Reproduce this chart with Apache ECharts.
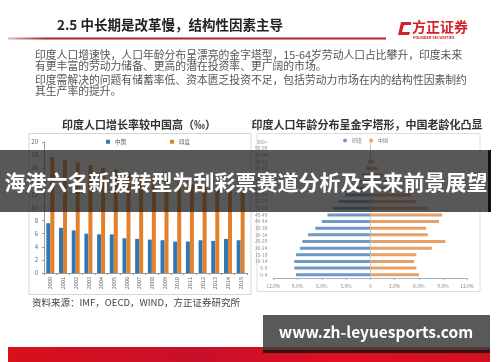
<!DOCTYPE html>
<html><head><meta charset="utf-8">
<script src="https://cdn.jsdelivr.net/npm/echarts@6/dist/echarts.min.js"></script>
<style>html,body{margin:0;padding:0;background:#fff}#c{width:500px;height:362px}</style>
</head><body><div id="c"></div>
<script>
// Left chart: natural growth rate (‰)
const years = ['2000','2001','2002','2003','2004','2005','2006','2007','2008','2009','2010','2011','2012','2013','2014','2015'];
const chinaGrowth = [7.6,6.9,6.5,6.0,5.9,5.9,5.3,5.2,5.1,5.0,4.8,4.8,5.0,4.9,5.2,5.0];
const indiaGrowth = [17.7,17.3,16.9,16.5,16.1,15.8,15.4,15.0,14.6,14.3,13.9,13.6,13.2,12.9,12.6,12.3];
const growthTicks = {min:0, max:20, interval:2};
// Right chart: age structure (%)
const ageGroups = ['0-4','5-9','10-14','15-19','20-24','25-29','30-34','35-39','40-44','45-49','50-54','55-59','60-64','65-69','70-74','75-79','80-84','85-89','90-94','95-99','100+'];
const indiaPct = [9.2,9.4,9.4,9.2,8.7,8.4,7.7,6.8,6.0,5.3,4.6,3.9,3.1,2.3,1.6,1.0,0.5,0.25,0.1,0.03,0.01];
const chinaPct = [6.0,5.7,5.4,5.7,7.6,9.3,7.1,6.9,8.5,8.9,7.1,5.6,5.1,3.6,2.4,1.6,0.9,0.4,0.15,0.03,0.01];
const pctTicks = {min:-12, max:12, interval:3};

const FF = '"Noto Sans CJK SC", "Noto Sans", sans-serif';
const chart = echarts.init(document.getElementById('c'), null, {renderer:'canvas'});

function txt(text, x, y, size, color, weight, align, extra){
  return Object.assign({type:'text', style:{text, x, y, font:(weight||'normal')+' '+size+'px '+FF, fill:color, textAlign:align||'left', textVerticalAlign:'middle'}}, extra||{});
}

const graphics = [
  // header
  txt('2.5 中长期是改革慢，结构性因素主导', 57, 25, 13.5, '#222', 'bold'),
  {type:'rect', shape:{x:8, y:37.5, width:378, height:2}, style:{fill:new echarts.graphic.LinearGradient(0,0,1,0,[{offset:0,color:'rgba(150,30,40,0.3)'},{offset:0.1,color:'#a8232c'},{offset:1,color:'#b3242e'}])}},
  // logo
  {type:'polygon', shape:{points:[[401,22],[411,22],[411,25],[404,25],[402,32],[410,32],[409,35],[398,35]]}, style:{fill:'#d2232a'}},
  txt('方正证券', 412, 27, 14, '#d2232a', 'bold'),
  txt('FOUNDER SECURITIES', 413, 37.5, 3.8, '#d2232a', 'bold'),
  // body text
  txt('印度人口增速快，人口年龄分布呈漂亮的金字塔型，15-64岁劳动人口占比攀升，印度未来', 35, 55, 10.8, '#555'),
  txt('有更丰富的劳动力储备、更高的潜在投资率、更广阔的市场。', 35, 66, 10.8, '#555'),
  txt('印度需解决的问题有储蓄率低、资本匮乏投资不足，包括劳动力市场在内的结构性因素制约', 35, 80, 10.8, '#555'),
  txt('其生产率的提升。', 35, 91, 10.8, '#555'),
  // chart titles
  txt('印度人口增长率较中国高（‰）', 139, 125, 11, '#333', 'bold', 'center'),
  txt('印度人口年龄分布呈金字塔形，中国老龄化凸显', 367, 125, 11, '#333', 'bold', 'center'),
  // chart boxes
  {type:'rect', shape:{x:29, y:133.5, width:222, height:161}, style:{fill:'none', stroke:'#d6d6d6', lineWidth:1}},
  {type:'rect', shape:{x:257, y:133.5, width:223, height:158}, style:{fill:'none', stroke:'#dedede', lineWidth:1}},
  // source
  txt('资料来源：IMF，OECD，WIND，方正证券研究所', 32, 302, 9.5, '#444'),
  // bottom red band
  {type:'rect', shape:{x:8, y:347, width:482, height:15}, style:{fill:new echarts.graphic.LinearGradient(0,0,1,0,[{offset:0,color:'#d9101c'},{offset:0.4,color:'#c8102a'},{offset:0.7,color:'#e01020'},{offset:1,color:'#d01020'}])}},
  // banner overlay
  {type:'rect', zlevel:2, shape:{x:0, y:150, width:490, height:62}, style:{fill:'rgba(35,35,35,0.76)'}},
  {type:'rect', zlevel:2, shape:{x:488, y:150, width:3, height:62}, style:{fill:'#111'}},
  Object.assign(txt('海港六名新援转型为刮彩票赛道分析及未来前景展望', 246, 182, 21, '#fff', 'bold', 'center'), {zlevel:2}),
  // url box
  {type:'rect', zlevel:2, shape:{x:263, y:315, width:227, height:37}, style:{fill:'rgba(60,60,60,0.85)'}},
  {type:'rect', zlevel:2, shape:{x:263, y:350, width:227, height:3}, style:{fill:'#3a1010'}},
  Object.assign(txt('www.zh-leyuesports.com', 376, 332, 15.5, '#fff', 'bold', 'center'), {zlevel:2})
];

const option = {
  animation:false,
  backgroundColor:'#fff',
  textStyle:{fontFamily:FF},
  legend:[
    {data:['中国','印度'], left:106, top:139, itemWidth:4, itemHeight:4, itemGap:44, icon:'rect', textStyle:{fontSize:5.5, color:'#555'}, padding:0},
    {data:['印度 ','中国 '], left:343, top:138, itemWidth:4, itemHeight:4, itemGap:6, icon:'circle', textStyle:{fontSize:5, color:'#777'}, padding:0}
  ],
  grid:[
    {left:44, right:253, top:142, bottom:89},
    {left:273.3, right:32.7, top:138.4, bottom:83.9}
  ],
  xAxis:[
    {type:'category', gridIndex:0, data:years, axisLine:{lineStyle:{color:'#999'}}, axisTick:{show:true, length:2, lineStyle:{color:'#999'}},
     axisLabel:{rotate:90, fontSize:5.5, color:'#666', margin:4, interval:0}},
    {type:'value', gridIndex:1, min:pctTicks.min, max:pctTicks.max, interval:pctTicks.interval, splitLine:{show:false},
     axisLine:{show:true, lineStyle:{color:'#9fb3c8'}}, axisTick:{show:true, length:2, lineStyle:{color:'#9fb3c8'}},
     axisLabel:{fontSize:5, color:'#888', margin:5, formatter:v => v === 0 ? '0' : Math.abs(v).toFixed(1) + '%'}}
  ],
  yAxis:[
    {type:'value', gridIndex:0, min:growthTicks.min, max:growthTicks.max, interval:growthTicks.interval, splitLine:{show:false},
     axisLine:{show:true, lineStyle:{color:'#999'}}, axisTick:{show:true, length:2, lineStyle:{color:'#999'}},
     axisLabel:{fontSize:6, color:'#666', margin:6}},
    {type:'category', gridIndex:1, data:ageGroups, axisLine:{show:false}, axisTick:{show:false},
     axisLabel:{fontSize:4.8, color:'#888', margin:6, interval:0}}
  ],
  series:[
    {name:'中国', type:'bar', xAxisIndex:0, yAxisIndex:0, data:chinaGrowth, barWidth:4, barGap:'0%', itemStyle:{color:'#2e76b4'}},
    {name:'印度', type:'bar', xAxisIndex:0, yAxisIndex:0, data:indiaGrowth, barWidth:4, barGap:'0%', itemStyle:{color:'#e5802a'}},
    {name:'印度 ', type:'bar', xAxisIndex:1, yAxisIndex:1, data:indiaPct.map(v => -v), barWidth:3, barGap:'-100%', itemStyle:{color:'#6d99c4'},
     markLine:{silent:true, symbol:'none', label:{show:false}, lineStyle:{color:'#bbb', type:'solid', width:0.8}, data:[{xAxis:0}]}},
    {name:'中国 ', type:'bar', xAxisIndex:1, yAxisIndex:1, data:chinaPct, barWidth:3, barGap:'-100%', itemStyle:{color:'#e6a068'}}
  ],
  graphic:graphics
};
chart.setOption(option);
</script>
</body></html>
